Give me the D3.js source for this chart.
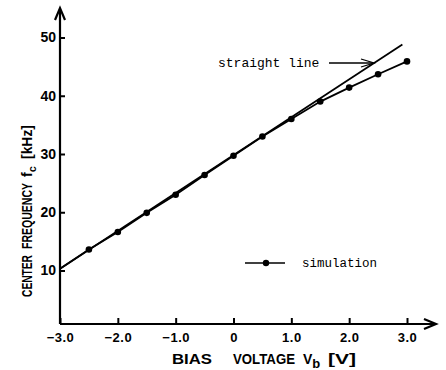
<!DOCTYPE html>
<html><head><meta charset="utf-8">
<script src="https://cdn.jsdelivr.net/npm/d3@7"></script>
<style>
html,body{margin:0;padding:0;background:#fff;}
svg{display:block;}
</style>
</head><body>
<svg id="chart" width="446" height="370"></svg>
<script>
// ---- data ----
const simVoltage = [-2.5, -2.0, -1.5, -1.0, -0.5, 0.0, 0.5, 1.0, 1.5, 2.0, 2.5, 3.0];
const simFreq    = [13.6, 16.6, 19.9, 23.0, 26.4, 29.7, 33.0, 36.0, 39.0, 41.4, 43.7, 45.9];
const simLineStart = [-3.0, 10.3];          // simulation curve begins at the axis
const straightVoltage = [-3.0, 2.92];
const straightFreq    = [10.3, 48.8];
const xTickValues = [-3, -2, -1, 0, 1, 2, 3];
const xTickLabels = ["\u22123.0", "\u22122.0", "\u22121.0", "0", "1.0", "2.0", "3.0"];
const yTickValues = [10, 20, 30, 40, 50];
const yTickLabels = ["10", "20", "30", "40", "50"];

// ---- layout ----
const svg = d3.select("#chart");
const x = d3.scaleLinear().domain([-3, 3]).range([60, 407]);
const y = d3.scaleLinear().domain([10, 50]).range([270.5, 37.5]);
const axisY = 324, axisX = 60;
const yTop = 8, xEnd = 436;
const sans = "Liberation Sans, Arial, sans-serif";
const mono = "Liberation Mono, DejaVu Sans Mono, monospace";

// axes (ticks via d3 axes)
const xAxis = d3.axisBottom(x).tickValues(xTickValues)
  .tickFormat((d, i) => xTickLabels[i]).tickSizeInner(-6).tickSizeOuter(0).tickPadding(9);
const gx = svg.append("g").attr("transform", `translate(0,${axisY})`).call(xAxis);
gx.select(".domain").remove();
gx.selectAll(".tick line").attr("stroke", "#000").attr("stroke-width", 2);
gx.selectAll(".tick text").attr("font-family", sans)
  .attr("font-size", 13).attr("fill", "#000").attr("font-weight", "bold").style("letter-spacing", "0.5px");

const yAxis = d3.axisLeft(y).tickValues(yTickValues)
  .tickFormat((d, i) => yTickLabels[i]).tickSizeInner(-5).tickSizeOuter(0).tickPadding(4);
const gy = svg.append("g").attr("transform", `translate(${axisX},0)`).call(yAxis);
gy.select(".domain").remove();
gy.selectAll(".tick line").attr("stroke", "#000").attr("stroke-width", 2);
gy.selectAll(".tick text").attr("font-family", sans)
  .attr("font-size", 14).attr("fill", "#000").attr("font-weight", "bold");

// axis lines with arrow heads
svg.append("line").attr("x1", axisX).attr("y1", axisY).attr("x2", xEnd - 2).attr("y2", axisY)
  .attr("stroke", "#000").attr("stroke-width", 2.2);
svg.append("line").attr("x1", axisX).attr("y1", axisY).attr("x2", axisX).attr("y2", yTop + 2)
  .attr("stroke", "#000").attr("stroke-width", 2.2);
svg.append("path").attr("d", `M${xEnd - 12},${axisY - 5} L${xEnd},${axisY} L${xEnd - 12},${axisY + 5}`)
  .attr("fill", "none").attr("stroke", "#000").attr("stroke-width", 2.2);
svg.append("path").attr("d", `M${axisX - 5},${yTop + 12} L${axisX},${yTop} L${axisX + 5},${yTop + 12}`)
  .attr("fill", "none").attr("stroke", "#000").attr("stroke-width", 2.2);

// straight line
const line = d3.line().x(d => x(d[0])).y(d => y(d[1]));
svg.append("path").datum(straightVoltage.map((v, i) => [v, straightFreq[i]]))
  .attr("d", line).attr("fill", "none").attr("stroke", "#000").attr("stroke-width", 1.8);

// simulation
const simPts = [simLineStart].concat(simVoltage.map((v, i) => [v, simFreq[i]]));
svg.append("path").datum(simPts).attr("d", line)
  .attr("fill", "none").attr("stroke", "#000").attr("stroke-width", 1.8);
svg.selectAll("circle.sim").data(simVoltage.map((v, i) => [v, simFreq[i]])).enter()
  .append("circle").attr("class", "sim").attr("cx", d => x(d[0])).attr("cy", d => y(d[1]))
  .attr("r", 3.3).attr("fill", "#000");

// annotation: straight line
svg.append("text").attr("x", 218).attr("y", 66.5).text("straight line")
  .attr("font-family", mono).attr("font-size", 13).attr("fill", "#000");
svg.append("line").attr("x1", 329).attr("y1", 63).attr("x2", 373).attr("y2", 63)
  .attr("stroke", "#000").attr("stroke-width", 1.3);
svg.append("path").attr("d", "M361,59 L374,63 L361,67")
  .attr("fill", "none").attr("stroke", "#000").attr("stroke-width", 1.3);

// legend
svg.append("line").attr("x1", 245).attr("y1", 263).attr("x2", 285).attr("y2", 263)
  .attr("stroke", "#000").attr("stroke-width", 1.6);
svg.append("circle").attr("cx", 266).attr("cy", 263).attr("r", 3.2).attr("fill", "#000");
svg.append("text").attr("x", 302).attr("y", 267).text("simulation")
  .attr("font-family", mono).attr("font-size", 12.5).attr("fill", "#000");

// axis titles: condensed pieces fitted with textLength
function piece(g, txt, pos, len, size, adj) {
  return g.append("text").attr("x", pos).attr("y", 0).text(txt)
    .attr("font-family", sans).attr("font-size", size).attr("font-weight", "bold")
    .attr("fill", "#000").attr("textLength", len).attr("lengthAdjust", adj || "spacingAndGlyphs");
}
function sub(g, main, s, pos, size, subSize) {
  const t = g.append("text").attr("x", pos).attr("y", 0)
    .attr("font-family", sans).attr("font-size", size).attr("font-weight", "bold").attr("fill", "#000");
  t.append("tspan").text(main);
  t.append("tspan").attr("dy", 4).attr("font-size", subSize).text(s);
  return t;
}
const xt = svg.append("g").attr("transform", "translate(0,364)");
piece(xt, "BIAS", 172, 40, 15);
piece(xt, "VOLTAGE", 233, 62, 15);
sub(xt, "V", "b", 303, 14, 13);
piece(xt, "[V]", 328, 28, 15);

const yt = svg.append("g").attr("transform", "translate(32,0) rotate(-90)");
piece(yt, "CENTER", -297, 42, 15);
piece(yt, "FREQUENCY", -249, 66, 15);
sub(yt, "f", "c", -177, 14, 11);
piece(yt, "[kHz]", -159, 34, 15);
</script>
</body></html>
